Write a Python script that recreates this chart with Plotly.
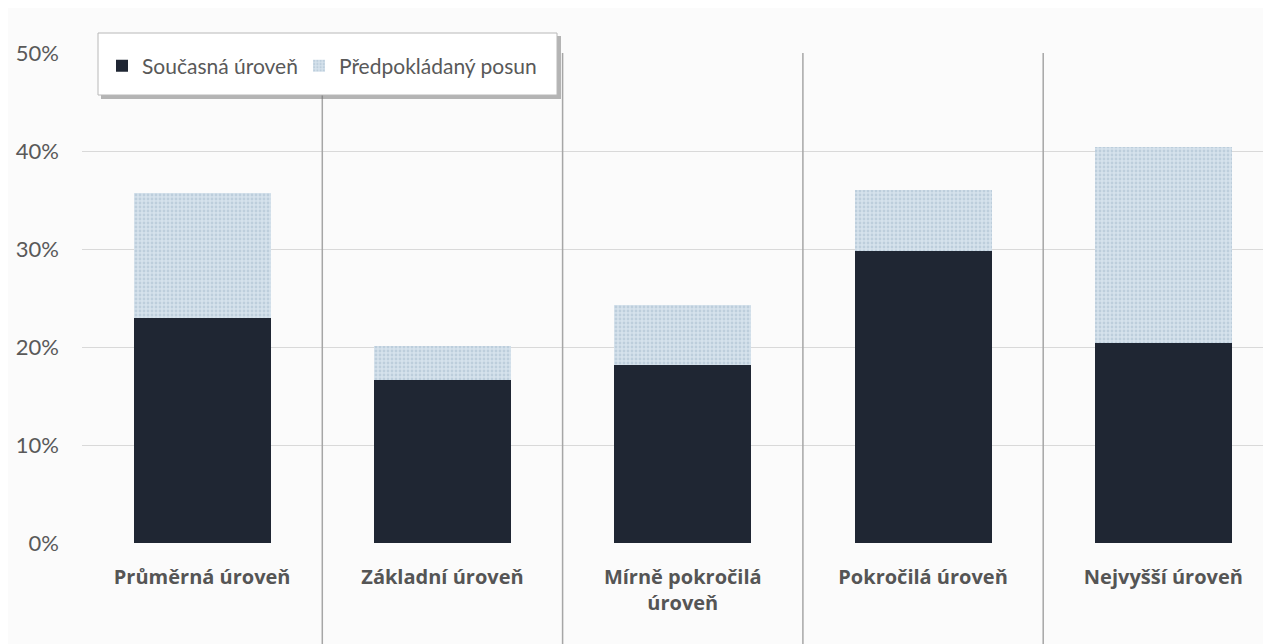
import plotly.graph_objects as go

categories = ["Průměrná úroveň", "Základní úroveň", "Mírně pokročilá<br>úroveň",
              "Pokročilá úroveň", "Nejvyšší úroveň"]
current = [0.23, 0.166, 0.182, 0.298, 0.204]
shift = [0.127, 0.035, 0.061, 0.062, 0.200]
series_names = ["Současná úroveň", "Předpokládaný posun"]
y_ticks = [0, 0.1, 0.2, 0.3, 0.4, 0.5]

FONT = "Lato, Carlito, Calibri, sans-serif"

# page layout (the page has an 8px body margin)
OFF = 8
L, T = 82, 53          # plot area left/top in page px
W, H = 1189, 490       # plot area size in px


def px(x):
    return (x - L) / W


def py(y):
    return (T + H - y) / H


fig = go.Figure()
fig.add_bar(x=categories, y=current, name=series_names[0], width=0.57,
            marker=dict(color="#1f2633", line=dict(width=0)), legend="legend")
fig.add_bar(x=categories, y=shift, name=series_names[1], width=0.57,
            marker=dict(color="#d0dde8", line=dict(width=0),
                        pattern=dict(shape=".", fgcolor="#a3b9cc", bgcolor="#d6e2ec",
                                     size=4, solidity=0.4)), legend="legend2")

shapes = []
for b in [0.5, 1.5, 2.5, 3.5]:
    shapes.append(dict(type="line", xref="x", yref="paper", x0=b, x1=b, y0=py(650), y1=1,
                       line=dict(color="#a6a6a6", width=1.5), layer="above"))
shapes.append(dict(type="rect", xref="paper", yref="paper",
                   x0=px(101), x1=px(561), y0=py(99), y1=py(36),
                   fillcolor="rgba(110,110,110,0.5)", line=dict(width=0), layer="above"))
shapes.append(dict(type="rect", xref="paper", yref="paper",
                   x0=px(98), x1=px(557), y0=py(95), y1=py(33),
                   fillcolor="#ffffff", line=dict(color="#b8b8b8", width=1), layer="above"))

leg_common = dict(orientation="h", yanchor="middle", xanchor="left",
                  bgcolor="rgba(0,0,0,0)", borderwidth=0,
                  font=dict(size=21, color="#595959", family=FONT),
                  itemclick=False, itemdoubleclick=False)

fig.update_layout(
    width=1271 - OFF, height=644 - OFF,
    margin=dict(l=L - OFF, r=0, t=T - OFF, b=644 - (T + H)),
    paper_bgcolor="#fbfbfb", plot_bgcolor="#fbfbfb",
    barmode="stack",
    font=dict(family=FONT, color="#595959"),
    shapes=shapes,
    showlegend=True,
    legend=dict(x=px(102), y=py(66), **leg_common),
    legend2=dict(x=px(299), y=py(66), **leg_common),
    xaxis=dict(range=[-0.5, 4.448], showgrid=False, zeroline=False, showline=False,
               tickfont=dict(size=20, color="#555555", family="Open Sans", weight=700),
               ticks="", ticklabelstandoff=20),
    yaxis=dict(range=[0, 0.5], tickvals=y_ticks, tickformat=".0%",
               gridcolor="#d9d9d9", gridwidth=1, zeroline=False, showline=False,
               tickfont=dict(size=22, color="#595959", family=FONT),
               ticks="", ticklabelstandoff=22),
)
fig.write_html("out.html")
